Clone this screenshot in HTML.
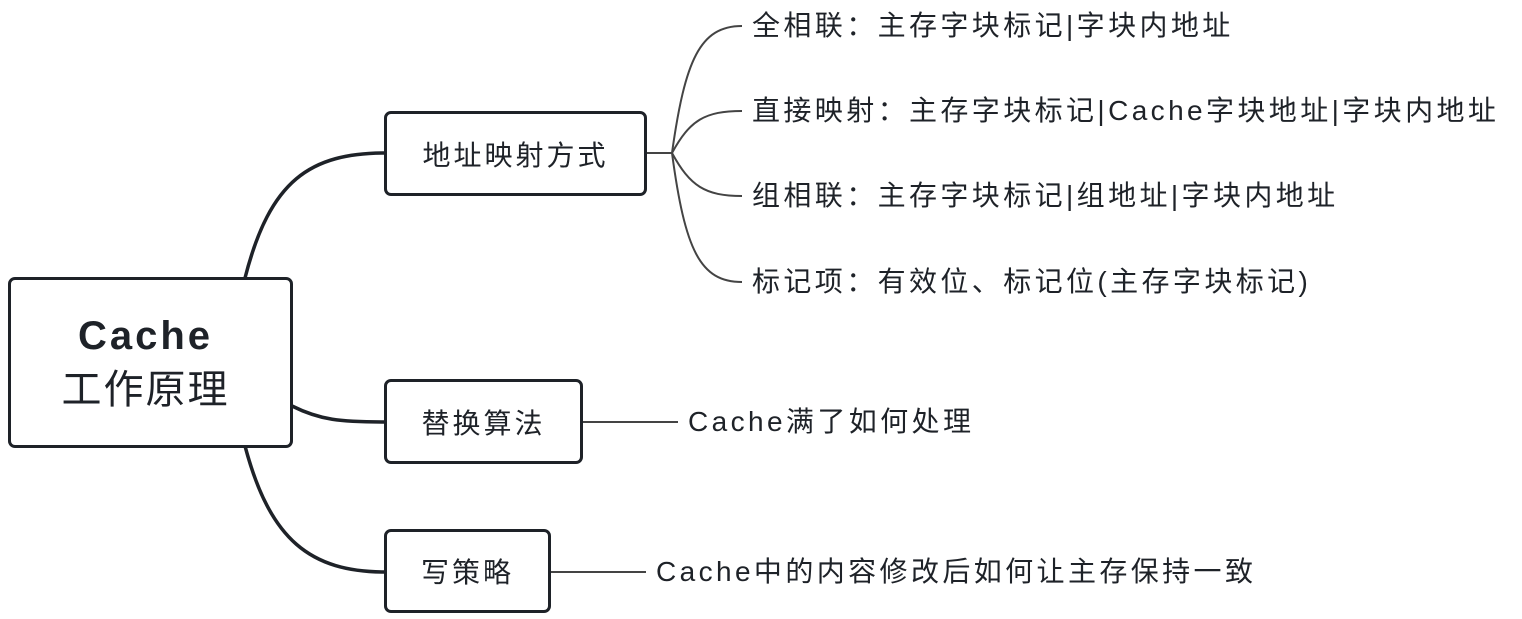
<!DOCTYPE html>
<html><head><meta charset="utf-8"><style>
html,body{margin:0;padding:0;background:#fff;}
body{width:1522px;height:619px;position:relative;overflow:hidden;font-family:"Liberation Sans","Noto Sans CJK SC",sans-serif;color:#1e2228;}
.box{position:absolute;border:3.5px solid #1e2228;border-radius:7px;box-sizing:border-box;display:flex;align-items:center;justify-content:center;font-size:28px;letter-spacing:3px;background:#fff;}
.t{position:absolute;font-size:28px;letter-spacing:3.4px;white-space:nowrap;line-height:1;}
</style></head><body>
<svg width="1522" height="619" style="position:absolute;left:0;top:0">
<g fill="none" stroke="#1e2228" stroke-width="3.5">
<path d="M245 278 C270 180 310 153 386 153"/>
<path d="M292 406 C320 420 340 422 386 422"/>
<path d="M245 446 C270 540 310 572 386 572"/>
</g>
<g fill="none" stroke="#444" stroke-width="2">
<path d="M646 153 L672 153"/>
<path d="M672 153 C685 60 700 26 742 26"/>
<path d="M672 153 C690 120 705 111 742 111"/>
<path d="M672 153 C690 186 705 196 742 196"/>
<path d="M672 153 C685 250 700 282 742 282"/>
<path d="M582 422 L678 422"/>
<path d="M550 572 L646 572"/>
</g>
</svg>
<div class="box" style="left:8px;top:277px;width:285px;height:171px;flex-direction:column;padding-right:10px;letter-spacing:2px;">
<div style="font-size:40px;font-weight:bold;line-height:1.35;letter-spacing:3px;">Cache</div>
<div style="font-size:40px;line-height:1.35;">工作原理</div>
</div>
<div class="box" style="left:384px;top:111px;width:263px;height:85px;">地址映射方式</div>
<div class="box" style="left:384px;top:379px;width:199px;height:85px;">替换算法</div>
<div class="box" style="left:384px;top:529px;width:167px;height:84px;">写策略</div>
<div class="t" style="left:752px;top:12px;">全相联：主存字块标记|字块内地址</div>
<div class="t" style="left:752px;top:97px;">直接映射：主存字块标记|Cache字块地址|字块内地址</div>
<div class="t" style="left:752px;top:182px;">组相联：主存字块标记|组地址|字块内地址</div>
<div class="t" style="left:752px;top:268px;">标记项：有效位、标记位(主存字块标记)</div>
<div class="t" style="left:688px;top:408px;">Cache满了如何处理</div>
<div class="t" style="left:656px;top:558px;">Cache中的内容修改后如何让主存保持一致</div>
</body></html>
